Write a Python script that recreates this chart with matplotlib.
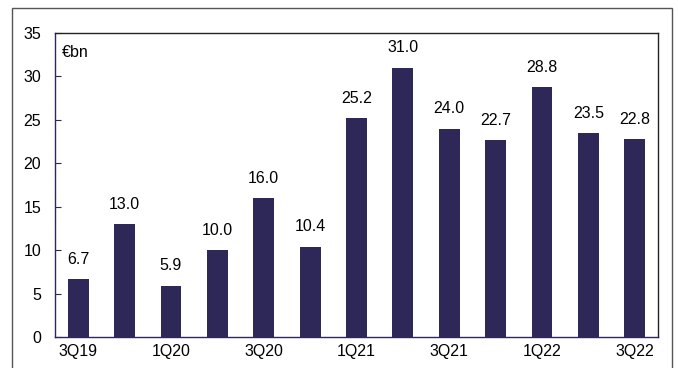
import matplotlib
matplotlib.use("Agg")
import matplotlib.pyplot as plt
from matplotlib.patches import Rectangle
import numpy as np

plt.rcParams['font.family'] = ['Liberation Sans', 'DejaVu Sans']

quarters = ['3Q19', '4Q19', '1Q20', '2Q20', '3Q20', '4Q20', '1Q21',
            '2Q21', '3Q21', '4Q21', '1Q22', '2Q22', '3Q22']
values = [6.7, 13.0, 5.9, 10.0, 16.0, 10.4, 25.2, 31.0, 24.0, 22.7, 28.8, 23.5, 22.8]
yticks = [0, 5, 10, 15, 20, 25, 30, 35]

bar_color = '#2E2858'
fs = 11.5

fig = plt.figure(figsize=(6.78, 3.68), dpi=100)
ax = fig.add_axes([55/678, 1 - 337/368, 603/678, 304/368])

x = np.arange(len(quarters))
ax.bar(x, values, width=0.45, color=bar_color)

for xi, v in zip(x, values):
    ax.annotate(f'{v:.1f}', (xi, v), xytext=(0, 11), textcoords='offset points',
                ha='center', va='baseline', fontsize=fs)

ax.set_xlim(-0.5, len(quarters) - 0.5)
ax.set_ylim(0, 35)
ax.set_yticks(yticks)
ax.set_xticks(x[::2])
ax.set_xticklabels(quarters[::2])
ax.tick_params(axis='y', direction='in', length=4, color=bar_color, labelsize=fs, pad=10)
ax.tick_params(axis='x', length=0, labelsize=fs, pad=5)

for s in ax.spines.values():
    s.set_color('#222222')
    s.set_linewidth(1)
ax.spines['left'].set_color(bar_color)
ax.spines['bottom'].set_color(bar_color)

ax.text(0.012, 0.935, '€bn', transform=ax.transAxes, fontsize=fs, va='center')

# outer frame
frame = Rectangle((12/678, -0.1), 660/678, 1.1 - 8/368, transform=fig.transFigure,
                  fill=False, edgecolor='#555555', linewidth=1)
fig.patches.append(frame)

fig.savefig('out.png', dpi=100)
